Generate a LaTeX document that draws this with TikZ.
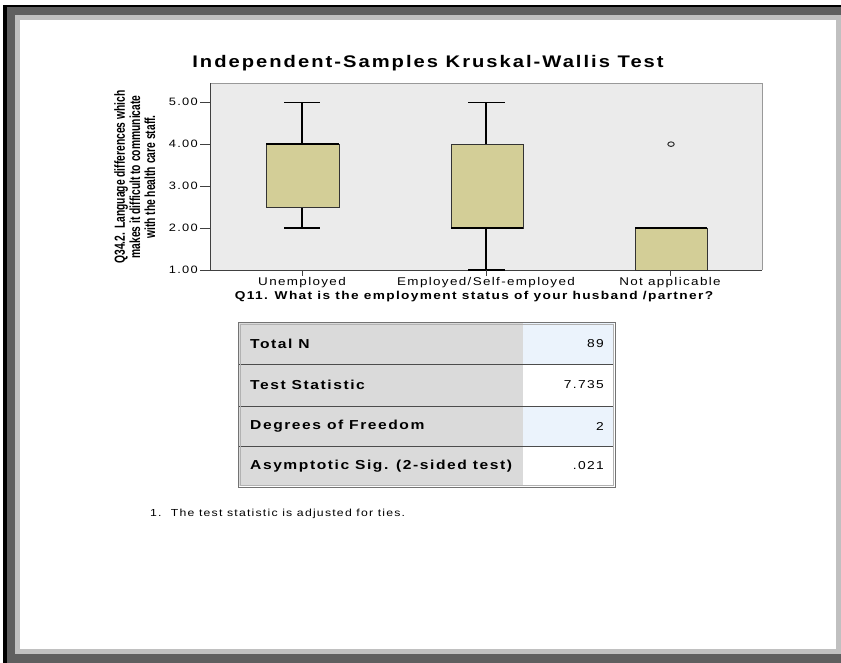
\documentclass[tikz,border=0pt]{standalone}
\usepackage{fontspec}
\usepackage{graphicx}
\setmainfont{Liberation Sans}
\newfontfamily\spssfont[FakeStretch=1.2,LetterSpace=12]{Liberation Sans}
\newfontfamily\yaxisfont{Liberation Sans}
\definecolor{framedark}{HTML}{5F5F5F}
\definecolor{framelight}{HTML}{C0C0C0}
\definecolor{plotbg}{HTML}{EBEBEB}
\definecolor{boxfill}{HTML}{D3CE97}
\definecolor{tablehead}{HTML}{DADADA}
\definecolor{cellblue}{HTML}{EBF3FC}

\begin{document}
\begin{tikzpicture}[x=1pt,y=-1pt,
   every node/.style={inner sep=0pt},
   titletext/.style={font=\spssfont\bfseries\fontsize{16.8}{20}\selectfont},
   ticklabel/.style={font=\spssfont\fontsize{10.7}{13}\selectfont},
   catlabel/.style={font=\spssfont\fontsize{11.2}{13}\selectfont},
   axistitle/.style={font=\spssfont\bfseries\fontsize{11.4}{13}\selectfont},
   ytitle/.style={font=\yaxisfont\bfseries\fontsize{10.3}{10.6}\selectfont,rotate=90},
   axisline/.style={draw=black!75,line width=0.8pt},
   whisker/.style={draw=black,line width=1.2pt},
   boxbody/.style={fill=boxfill,draw=black!80,line width=0.8pt},
   median/.style={draw=black,line width=2.5pt},
   rowhead/.style={font=\spssfont\bfseries\fontsize{13}{15}\selectfont,anchor=west},
   cellval/.style={font=\spssfont\fontsize{11.5}{13}\selectfont,anchor=east},
   rowline/.style={draw=black!70,line width=0.8pt},
   notetext/.style={font=\spssfont\fontsize{10.2}{13}\selectfont,anchor=west}]

\useasboundingbox (0,0) rectangle (841,662);

% window frame
\fill[black] (3,5) rectangle (845,7) (3,5) rectangle (7,666);
\fill[framedark] (7,7) rectangle (845,666);
\fill[framelight] (15,15) rectangle (845,654);
\fill[white] (20,20) rectangle (836,649);

\node[titletext] (title) at (428,63) {Independent-Samples Kruskal-Wallis Test};

% plot area
\fill[plotbg] (210,83) rectangle (762,270);
\draw[black!40,line width=0.8pt] (210,83) -- (762,83) -- (762,270);
\draw[axisline] (210,83) -- (210,270) -- (762,270);

\begin{scope}[shift={(0,311.95)},y={(0pt,41.95pt)}]
  \foreach \v in {1,...,5}{
    \draw[axisline] (200,\v) -- (210,\v);
    \node[ticklabel,anchor=east] (ytick\v) at (198,\v) {\v.00};
  }
  % Unemployed
  \draw[whisker] (302,2) -- (302,5);
  \draw[whisker] (284,2) -- (320,2) (284,5) -- (320,5);
  \filldraw[boxbody] (266,2.5) rectangle (339,4);
  \draw[median] (266,4) -- (339,4);
  % Employed/Self-employed
  \draw[whisker] (486,1) -- (486,5);
  \draw[whisker] (468,1) -- (505,1) (468,5) -- (505,5);
  \filldraw[boxbody] (451,2) rectangle (523,4);
  \draw[median] (451,2) -- (523,2);
  % Not applicable
  \filldraw[boxbody] (635,1) rectangle (707,2);
  \draw[median] (635,2) -- (707,2);
  \draw[black!80,line width=1pt] (671,4) ellipse [x radius=3.2pt, y radius=2.3pt];
\end{scope}

% x axis
\foreach \x in {302,486,670}
  \draw[axisline] (\x,270) -- (\x,276);
\node[catlabel] (xlab1) at (302,283) {Unemployed};
\node[catlabel] (xlab2) at (486,283) {Employed/Self-employed};
\node[catlabel] (xlab3) at (670,283) {Not applicable};
\node[axistitle] (xtitle) at (474,297) {Q11. What is the employment status of your husband /partner?};
\node[ytitle] (ytitle) at (137,177) {\scalebox{1}[1.42]{\begin{tabular}{@{}c@{}}Q34.2. Language differences which\\makes it difficult to communicate\\with the health care staff.\end{tabular}}};

% table
\fill[tablehead] (239,323) rectangle (523,486);
\fill[cellblue] (523,323) rectangle (614,364);
\fill[cellblue] (523,406) rectangle (614,446);
\foreach \y in {364,406,446}
  \draw[rowline] (239,\y) -- (614,\y);
\draw[black!55,line width=1pt] (238,322) rectangle (615,487);
\draw[black!30,line width=0.8pt] (240,324) rectangle (613,485);
\node[rowhead] (totaln) at (250,344) {Total N};
\node[rowhead] (teststat) at (250,385) {Test Statistic};
\node[rowhead] (dof) at (250,426) {Degrees of Freedom};
\node[rowhead] (asymp) at (250,466) {Asymptotic Sig. (2-sided test)};
\node[cellval] (vtotaln) at (604,344) {89};
\node[cellval] (vteststat) at (604,385) {7.735};
\node[cellval] (vdof) at (604,426) {2};
\node[cellval] (vasymp) at (604,466) {.021};

\node[notetext] (note) at (150,514) {1.\ \ The test statistic is adjusted for ties.};

\end{tikzpicture}
\end{document}
